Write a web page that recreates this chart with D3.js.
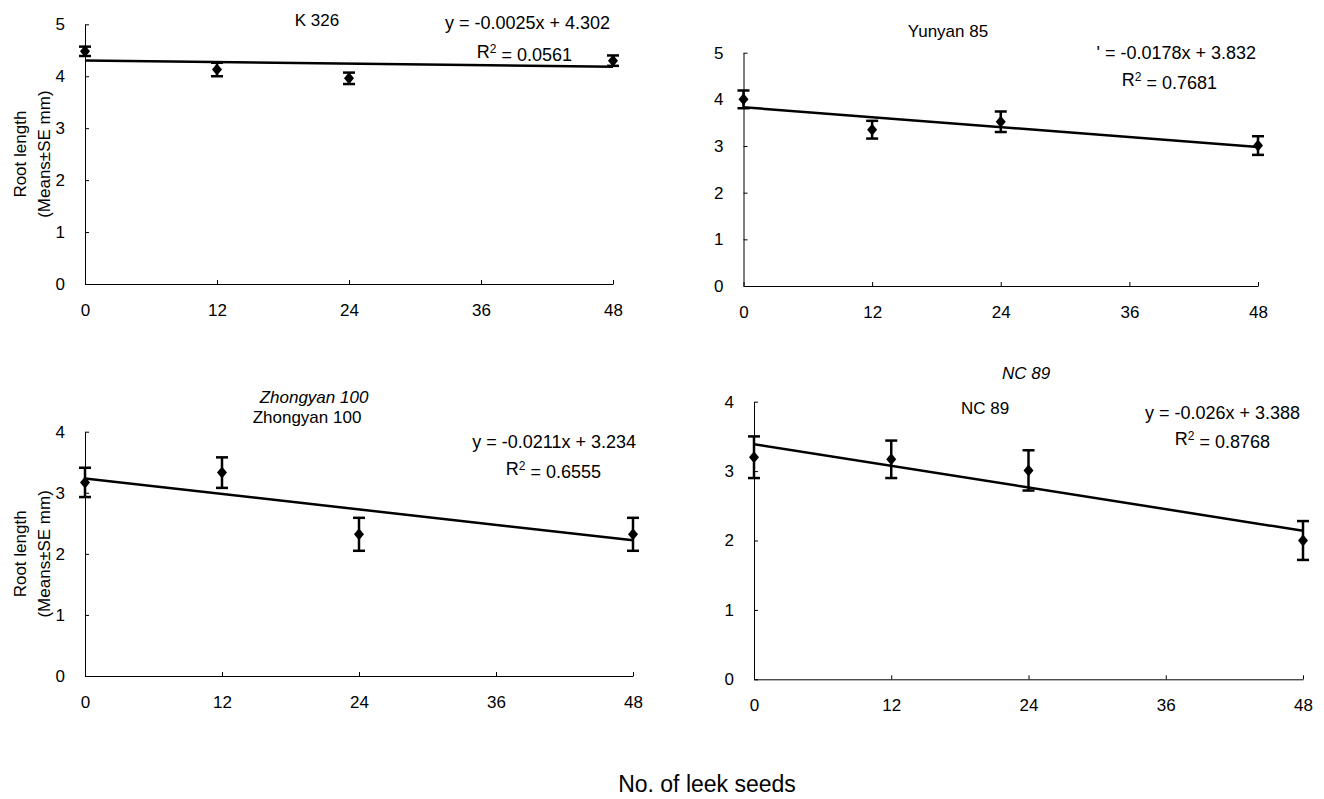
<!DOCTYPE html>
<html>
<head>
<meta charset="utf-8">
<script src="https://cdn.jsdelivr.net/npm/d3@7"></script>
<style>
body{margin:0;background:#fff;}
text{font-family:"Liberation Sans",Arial,sans-serif;fill:#000;}
</style>
</head>
<body>
<div id="plot"></div>
<script>
// data
var seeds = [0, 12, 24, 48];
var xTicks = [0, 12, 24, 36, 48];
var varieties = ["K 326", "Yunyan 85", "Zhongyan 100", "NC 89"];

var meanK326 = [4.48, 4.13, 3.96, 4.30];
var seK326   = [0.09, 0.13, 0.11, 0.10];
var meanYunyan85 = [4.00, 3.35, 3.52, 3.01];
var seYunyan85   = [0.19, 0.19, 0.22, 0.20];
var meanZhongyan100 = [3.17, 3.33, 2.32, 2.32];
var seZhongyan100   = [0.24, 0.25, 0.27, 0.27];
var meanNC89 = [3.20, 3.17, 3.01, 2.00];
var seNC89   = [0.30, 0.27, 0.29, 0.28];

var slopes = [-0.0025, -0.0178, -0.0211, -0.026];
var intercepts = [4.302, 3.832, 3.234, 3.388];
var eqLabels = ["y = -0.0025x + 4.302", "' = -0.0178x  + 3.832", "y = -0.0211x + 3.234", "y = -0.026x + 3.388"];
var r2Labels = ["0.0561", "0.7681", "0.6555", "0.8768"];
var yMax = [5, 5, 4, 4];

var means = [meanK326, meanYunyan85, meanZhongyan100, meanNC89];
var errs = [seK326, seYunyan85, seZhongyan100, seNC89];

// panel frames (pixels)
var frames = [
    {l:85, r:613, b:284, t:24.3, title:[317,20], eq:[610,23], r2:[572,52], ytitle:true},
    {l:743.5, r:1258, b:286, t:52.7, title:[948,31], eq:[1256,53], r2:[1217,80], ytitle:false},
    {l:85, r:633, b:676, t:431.7, title:[307,417], eq:[636,442], r2:[601,469], ytitle:true, italic:[314,397]},
    {l:754, r:1303, b:679.3, t:401.7, title:[985,408], eq:[1300,413], r2:[1270,439], ytitle:false, italic:[1026,373]}
];

var svg = d3.select('#plot')
    .append('svg')
    .attr('width', 1324)
    .attr('height', 799);

frames.forEach(function(f, i) {
    var x = d3.scaleLinear().domain([0, 48]).range([f.l, f.r]);
    var y = d3.scaleLinear().domain([0, yMax[i]]).range([f.b, f.t]);
    var g = svg.append('g');

    var xa = g.append('g')
        .attr('transform', 'translate(0,' + f.b + ')')
        .call(d3.axisBottom(x).tickValues(xTicks).tickFormat(d3.format('d'))
            .tickSize(-4).tickSizeOuter(0).tickPadding(20));
    var ya = g.append('g')
        .attr('transform', 'translate(' + f.l + ',0)')
        .call(d3.axisLeft(y).tickValues(d3.range(0, yMax[i] + 1)).tickFormat(d3.format('d'))
            .tickSize(-4).tickSizeOuter(0).tickPadding(20));
    [xa, ya].forEach(function(a) {
        a.attr('font-family', null).attr('font-size', null);
        a.selectAll('path, line').attr('stroke', '#000').attr('stroke-width', 1);
        a.selectAll('text').style('font-size', '17px');
    });

    // trend line
    var line = d3.line()
        .x(function(d) { return x(d); })
        .y(function(d) { return y(intercepts[i] + slopes[i] * d); });
    g.append('path')
        .datum([0, 48])
        .attr('d', line)
        .attr('fill', 'none')
        .attr('stroke', '#000')
        .attr('stroke-width', 2.5);

    // error bars
    seeds.forEach(function(s, j) {
        var m = means[i][j], e = errs[i][j];
        g.append('line')
            .attr('x1', x(s)).attr('x2', x(s))
            .attr('y1', y(m - e)).attr('y2', y(m + e))
            .attr('stroke', '#000').attr('stroke-width', 2.5);
        [m - e, m + e].forEach(function(v) {
            g.append('line')
                .attr('x1', x(s) - 6).attr('x2', x(s) + 6)
                .attr('y1', y(v)).attr('y2', y(v))
                .attr('stroke', '#000').attr('stroke-width', 2.5);
        });
        g.append('path')
            .attr('d', 'M0,-6L5,0L0,6L-5,0Z')
            .attr('transform', 'translate(' + x(s) + ',' + y(m) + ')')
            .attr('fill', '#000');
    });

    // titles and equation
    if (f.italic) {
        g.append('text')
            .attr('x', f.italic[0]).attr('y', f.italic[1])
            .attr('dy', '0.35em')
            .attr('text-anchor', 'middle')
            .style('font-size', '17px')
            .style('font-style', 'italic')
            .text(varieties[i]);
    }
    g.append('text')
        .attr('x', f.title[0]).attr('y', f.title[1])
        .attr('dy', '0.35em')
        .attr('text-anchor', 'middle')
        .style('font-size', '17px')
        .text(varieties[i]);
    g.append('text')
        .attr('x', f.eq[0]).attr('y', f.eq[1])
        .attr('dy', '0.35em')
        .attr('text-anchor', 'end')
        .style('font-size', '18px')
        .text(eqLabels[i]);
    var r2 = g.append('text')
        .attr('x', f.r2[0]).attr('y', f.r2[1])
        .attr('dy', '0.35em')
        .attr('text-anchor', 'end')
        .style('font-size', '18px');
    r2.append('tspan').text('R');
    r2.append('tspan').attr('dy', '-0.45em').style('font-size', '12px').text('2');
    r2.append('tspan').attr('dy', '0.45em').text(' = ' + r2Labels[i]);

    if (f.ytitle) {
        var cy = (f.b + f.t) / 2;
        g.append('text')
            .attr('transform', 'translate(20,' + cy + ') rotate(-90)')
            .attr('dy', '0.35em')
            .attr('text-anchor', 'middle')
            .style('font-size', '17px')
            .text('Root length');
        g.append('text')
            .attr('transform', 'translate(44,' + cy + ') rotate(-90)')
            .attr('dy', '0.35em')
            .attr('text-anchor', 'middle')
            .style('font-size', '17px')
            .text('(Means\u00b1SE mm)');
    }
});

svg.append('text')
    .attr('x', 707).attr('y', 792)
    .attr('text-anchor', 'middle')
    .style('font-size', '23px')
    .text('No. of leek seeds');
</script>
</body>
</html>
